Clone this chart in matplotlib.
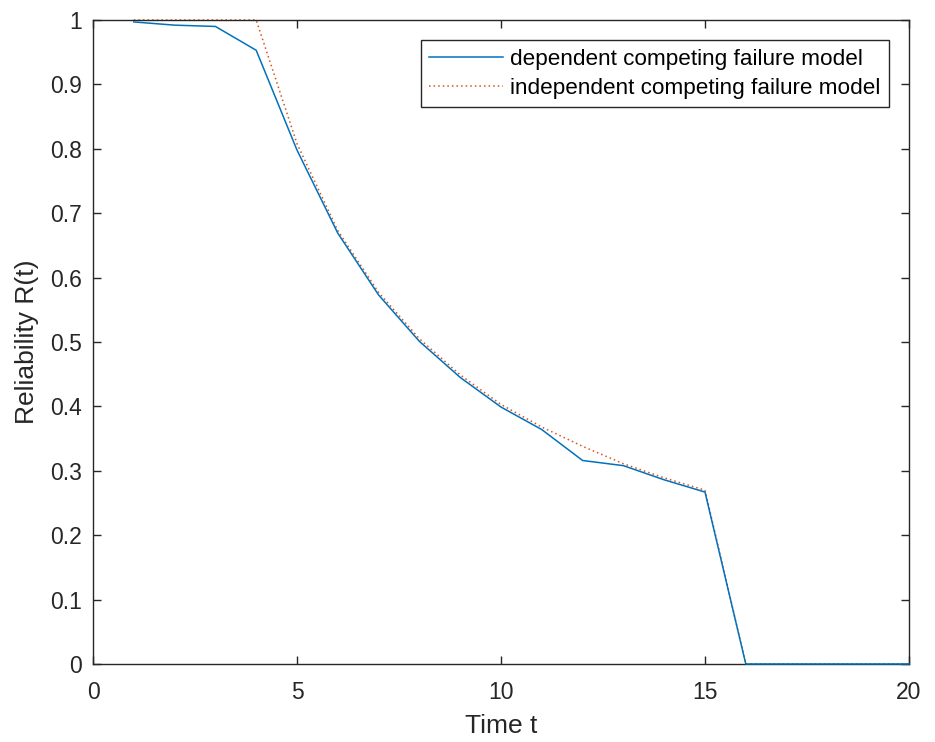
import matplotlib
matplotlib.use("Agg")
import matplotlib.pyplot as plt

plt.rcParams['font.family'] = ['Liberation Sans', 'DejaVu Sans']

t = list(range(1, 21))
dependent = [0.997, 0.992, 0.990, 0.953, 0.798, 0.669, 0.573, 0.501, 0.445, 0.399,
             0.364, 0.316, 0.308, 0.286, 0.267, 0.0, 0.0, 0.0, 0.0, 0.0]
independent = [1.0, 1.0, 1.0, 1.0, 0.808, 0.673, 0.577, 0.505, 0.449, 0.403,
               0.368, 0.338, 0.311, 0.289, 0.270, 0.0, 0.0, 0.0, 0.0, 0.0]

fig = plt.figure(figsize=(9.35, 7.42), dpi=100)
ax = fig.add_axes([93/935, 1-664/742, (909-93)/935, (664-20)/742])

ax.plot(t, dependent, color='#0072BD', lw=1.1, label='dependent competing failure model',
        clip_on=False, zorder=3)
ax.plot(t, independent, color='#D95319', lw=1.1, ls=(0, (1, 2)),
        label='independent competing failure model', clip_on=False, zorder=2)

ax.set_xlim(0, 20)
ax.set_ylim(0, 1)
ax.set_xticks([0, 5, 10, 15, 20])
ax.set_yticks([i/10 for i in range(11)])
ax.set_yticklabels(['0'] + [f'0.{i}' for i in range(1, 10)] + ['1'])
ax.tick_params(direction='in', top=True, right=True, labelsize=16.5, length=6, width=1,
               colors='#262626')
ax.tick_params(axis='x', pad=12)
ax.tick_params(axis='y', pad=8)
for s in ax.spines.values():
    s.set_color('#262626')
    s.set_linewidth(1)
ax.set_xlabel('Time t', fontsize=19, color='#262626')
ax.set_ylabel('Reliability R(t)', fontsize=19, color='#262626')
ax.xaxis.set_label_coords(0.5, -(714 - 664) / 644)
ax.yaxis.set_label_coords(-(93 - 39) / 816, 0.5)

leg = ax.legend(loc='upper right', fontsize=16.2, fancybox=False, edgecolor='#262626',
                framealpha=1, handlelength=3.3, handletextpad=0.3, borderpad=0.38,
                labelspacing=0.36, borderaxespad=0)
leg.get_frame().set_linewidth(1)
leg.set_bbox_to_anchor((889/935, 1-40/742), transform=fig.transFigure)

fig.savefig('out.png', dpi=100)
